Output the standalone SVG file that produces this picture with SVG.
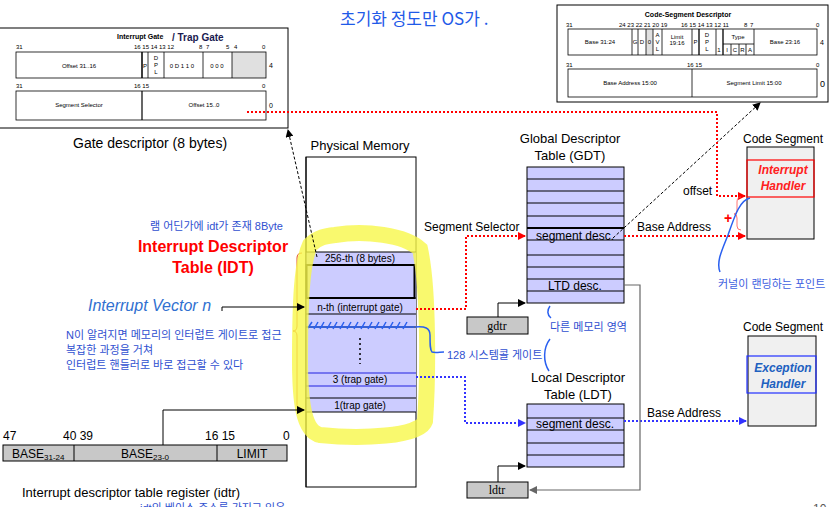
<svg xmlns="http://www.w3.org/2000/svg" width="830" height="507" viewBox="0 0 830 507">
<style>
text{font-family:"Liberation Sans",Arial,sans-serif;fill:#000}
.t6{font-size:6px}
.t7{font-size:7px}
.lbl{font-size:13px}
.mem{font-size:10px}
.ko{font-family:"Liberation Sans","Noto Sans CJK KR",sans-serif;fill:#3050d0;font-size:11px}
.thin{fill:none;stroke:#000;stroke-width:0.8}
.box{fill:#fff;stroke:#000;stroke-width:1}
.lav{fill:#ccccff;stroke:#000;stroke-width:1}
.reg{fill:#c8c8c8;stroke:#000;stroke-width:1}
.rdot{fill:none;stroke:#ff0000;stroke-width:2;stroke-dasharray:2 2}
.bdot{fill:none;stroke:#3333ff;stroke-width:2;stroke-dasharray:2 2}
.blk{fill:none;stroke:#000;stroke-width:1}
.dash{fill:none;stroke:#000;stroke-width:1;stroke-dasharray:3 2}
.pen{fill:none;stroke:#2a60f0;stroke-width:1.5}
</style>
<defs>
<marker id="ab" markerWidth="8" markerHeight="8" refX="7" refY="4" orient="auto" markerUnits="userSpaceOnUse"><path d="M0,0 L8,4 L0,8 Z" fill="#000"/></marker>
<marker id="ar" markerWidth="8" markerHeight="8" refX="7" refY="4" orient="auto" markerUnits="userSpaceOnUse"><path d="M0,0 L8,4 L0,8 Z" fill="#ff0000"/></marker>
<marker id="abl" markerWidth="8" markerHeight="8" refX="7" refY="4" orient="auto" markerUnits="userSpaceOnUse"><path d="M0,0 L8,4 L0,8 Z" fill="#3333ff"/></marker>
<marker id="ag" markerWidth="8" markerHeight="8" refX="7" refY="4" orient="auto" markerUnits="userSpaceOnUse"><path d="M0,0 L8,4 L0,8 Z" fill="#666"/></marker>
</defs>
<rect width="830" height="507" fill="#fff"/>

<!-- handwritten note -->
<text x="340" y="25" style="font-family:'Noto Sans CJK KR',sans-serif;font-size:17px;fill:#1f5ae8">초기화 정도만 OS가 .</text>

<!-- Gate descriptor -->
<g id="gate-descriptor">
<rect x="-1" y="28" width="289" height="100" class="box"/>
<text x="117" y="39" style="font-size:7px;font-weight:bold">Interrupt Gate</text>
<text x="172" y="41" style="font-size:10px;font-weight:bold;fill:#1a1a50">/ Trap Gate</text>
<g class="t6">
<text x="16" y="49">31</text><text x="134" y="49">16 15 14 13 12</text><text x="199" y="49">8</text><text x="206" y="49">7</text><text x="226" y="49">5</text><text x="234" y="49">4</text><text x="262" y="49">0</text>
<text x="16" y="88">31</text><text x="134" y="88">16 15</text><text x="262" y="88">0</text>
</g>
<rect x="232" y="52" width="34" height="26" fill="#e0e0e0"/>
<rect x="16" y="52" width="250" height="26" class="thin"/>
<path d="M142 52V78M148 52V78M164 52V78M203 52V78M232 52V78" class="thin"/>
<path d="M142 52V78" stroke="#000" stroke-width="1.2"/>
<g class="t6" text-anchor="middle">
<text x="79" y="68">Offset 31..16</text>
<text x="145" y="68">P</text>
<text x="156" y="60">D</text><text x="156" y="67">P</text><text x="156" y="74">L</text>
<text x="182" y="68">0 D 1 1 0</text>
<text x="217" y="68">0 0 0</text>
<text x="79" y="107">Segment Selector</text>
<text x="204" y="107">Offset 15..0</text>
</g>
<text x="269" y="68" class="t7">4</text>
<rect x="16" y="91" width="250" height="29" class="thin"/>
<path d="M142 91V120" stroke="#000" stroke-width="1.2"/>
<text x="269" y="108" class="t7">0</text>
</g>
<text x="73" y="148" style="font-size:14px">Gate descriptor (8 bytes)</text>

<!-- Code-Segment Descriptor -->
<g id="code-segment-descriptor">
<rect x="557" y="5" width="271" height="97" class="box"/>
<text x="688" y="17" text-anchor="middle" style="font-size:7px;font-weight:bold">Code-Segment Descriptor</text>
<g class="t6">
<text x="566" y="27">31</text><text x="619" y="27">24 23 22 21 20 19</text><text x="681" y="27">16 15 14 13 12 11</text><text x="744" y="27">8</text><text x="750" y="27">7</text><text x="816" y="27">0</text>
<text x="566" y="67">31</text><text x="687" y="67">16 15</text><text x="816" y="67">0</text>
</g>
<rect x="646" y="29" width="7" height="26" fill="#e0e0e0"/>
<rect x="568" y="29" width="249" height="26" class="thin"/>
<path d="M632 29V55M638 29V55M646 29V55M653 29V55M662 29V55M692 29V55M716 29V55M754 29V55M723 44H754M731 44V55M739 44V55M746 44V55" class="thin"/>
<path d="M699 29V55M723 29V55" stroke="#000" stroke-width="1.3"/>
<g class="t6" text-anchor="middle">
<text x="600" y="44">Base 31:24</text>
<text x="635" y="44">G</text><text x="642" y="44">D</text><text x="649.5" y="44">0</text>
<text x="657.5" y="37">A</text><text x="657.5" y="44">V</text><text x="657.5" y="51">L</text>
<text x="677" y="39">Limit</text><text x="677" y="45">19:16</text>
<text x="695.5" y="44">P</text>
<text x="707" y="37">D</text><text x="707" y="44">P</text><text x="707" y="51">L</text>
<text x="719" y="52">1</text>
<text x="738" y="39">Type</text>
<text x="727" y="52">I</text><text x="735" y="52">C</text><text x="742.5" y="52">R</text><text x="750" y="52">A</text>
<text x="785" y="44">Base 23:16</text>
<text x="630" y="85">Base Address 15:00</text>
<text x="754" y="85">Segment Limit 15:00</text>
</g>
<text x="820" y="45" class="t7">4</text>
<rect x="568" y="69" width="249" height="28" class="thin"/>
<path d="M692 69V97" class="thin"/>
<text x="820" y="87" style="font-size:9px">0</text>
</g>

<!-- IDT labels -->
<text x="150" y="230" class="ko">램 어딘가에 idt가 존재 8Byte</text>
<text x="213" y="252" text-anchor="middle" style="font-size:16px;font-weight:bold;fill:#ff0000">Interrupt Descriptor</text>
<text x="213" y="273" text-anchor="middle" style="font-size:16px;font-weight:bold;fill:#ff0000">Table (IDT)</text>
<text x="88" y="311" style="font-size:16px;font-style:italic;fill:#3070d0">Interrupt Vector n</text>
<text x="66" y="339" class="ko">N이 알려지면 메모리의 인터럽트 게이트로 접근</text>
<text x="66" y="354" class="ko">복잡한 과정을 거쳐</text>
<text x="66" y="369" class="ko">인터럽트 핸들러로 바로 접근할 수 있다</text>

<!-- Physical Memory -->
<g id="physical-memory">
<text x="360" y="150" text-anchor="middle" class="lbl">Physical Memory</text>
<rect x="306" y="157" width="110" height="330" class="box"/>
<rect x="306" y="252" width="110" height="160" fill="#ccccff"/>
<path d="M306 252H416M306 298H416M306 314H416M306 398H416M306 412H416" class="blk"/>
<rect x="306.5" y="265" width="108" height="33" fill="none" stroke="#000" stroke-width="2"/>
<path d="M306 373H416M306 386H416" stroke="#2020e0" stroke-width="1"/>
<path d="M306 327H416" class="blk"/>
<path d="M306 157V487" class="blk"/>
<g class="mem" text-anchor="middle">
<text x="360" y="262">256-th (8 bytes)</text>
<text x="360" y="311">n-th (interrupt gate)</text>
<text x="360" y="383">3 (trap gate)</text>
<text x="360" y="409">1(trap gate)</text>
</g>
<path d="M360 338V364" stroke="#000" stroke-width="1.5" stroke-dasharray="2 3"/>
<!-- hatch -->
<path d="M308 328L312 322M314 329L318 322M320 329L324 322M327 329L331 322M333 329L337 322M340 329L344 322M347 329L351 322M354 329L358 322M361 329L365 322M368 329L372 322M375 329L379 322M382 329L386 322M389 329L393 322M396 329L400 322M403 329L407 322M310 327H414" class="pen"/>
<!-- brace -->
<path d="M302 253Q297 253 297 258V326Q297 331 293 331Q297 331 297 336V405Q297 410 302 410" fill="none" stroke="#e05020" stroke-width="1"/>
</g>
<!-- yellow highlight -->
<path d="M335 235C365 230 405 235 420 249C429 290 428 380 425 421C420 437 360 439 320 435C303 431 300 400 300 360C300 300 302 262 310 245C318 237 326 236 335 235Z" fill="none" stroke="#f7f74a" stroke-width="16" stroke-opacity="0.8"/>

<!-- idtr -->
<g id="idtr">
<g style="font-size:12px">
<text x="3" y="440">47</text><text x="63" y="440">40 39</text><text x="205" y="440">16 15</text><text x="283" y="440">0</text>
</g>
<rect x="3" y="445" width="284" height="16" class="reg"/>
<path d="M74 445V461M217 445V461" class="blk"/>
<text x="12" y="458" style="font-size:12px">BASE<tspan style="font-size:8px" dy="2">31-24</tspan></text>
<text x="121" y="458" style="font-size:12px">BASE<tspan style="font-size:8px" dy="2">23-0</tspan></text>
<text x="252" y="458" text-anchor="middle" style="font-size:12px">LIMIT</text>
</g>
<text x="22" y="497" style="font-size:13px">Interrupt  descriptor table register (idtr)</text>
<text x="140" y="512" class="ko">idt의 베이스 주소를 가지고 있음</text>

<!-- GDT -->
<g id="gdt">
<text x="570" y="143" text-anchor="middle" class="lbl">Global Descriptor</text>
<text x="570" y="160" text-anchor="middle" class="lbl">Table (GDT)</text>
<rect x="527" y="167" width="97" height="136" class="lav"/>
<path d="M527 179H624M527 191H624M527 203H624M527 216H624M527 240H624M527 255H624M527 267H624M527 279H624M527 291H624" class="blk"/>
<path d="M527 228H624" stroke="#000" stroke-width="2"/>
<text x="575" y="240" text-anchor="middle" style="font-size:12px">segment desc.</text>
<text x="575" y="290" text-anchor="middle" style="font-size:12px">LTD desc.</text>
</g>
<g id="gdtr">
<rect x="467" y="317" width="61" height="17" class="reg"/>
<text x="497" y="330" text-anchor="middle" style="font-family:'Liberation Serif',serif;font-size:12px">gdtr</text>
</g>

<!-- LDT -->
<g id="ldt">
<text x="578" y="382" text-anchor="middle" class="lbl">Local Descriptor</text>
<text x="578" y="399" text-anchor="middle" class="lbl">Table (LDT)</text>
<rect x="527" y="404" width="97" height="63" class="lav"/>
<path d="M527 418H624M527 430H624M527 443H624M527 455H624" class="blk"/>
<text x="575" y="428" text-anchor="middle" style="font-size:12px">segment desc.</text>
</g>
<g id="ldtr">
<rect x="467" y="482" width="61" height="16" class="reg"/>
<text x="497" y="494" text-anchor="middle" style="font-family:'Liberation Serif',serif;font-size:12px">ldtr</text>
</g>

<!-- Code Segment 1 -->
<g id="code-segment-1">
<text x="783" y="143" text-anchor="middle" style="font-size:12px">Code Segment</text>
<rect x="747" y="147" width="67" height="92" fill="#f0f0f0" stroke="#000"/>
<rect x="747" y="160" width="67" height="37" fill="none" stroke="#ff0000" stroke-width="1.2"/>
<text x="783" y="174" text-anchor="middle" style="font-size:12px;font-weight:bold;font-style:italic;fill:#ff2020">Interrupt</text>
<text x="783" y="190" text-anchor="middle" style="font-size:12px;font-weight:bold;font-style:italic;fill:#ff2020">Handler</text>
</g>
<!-- Code Segment 2 -->
<g id="code-segment-2">
<text x="783" y="331" text-anchor="middle" style="font-size:12px">Code Segment</text>
<rect x="748" y="336" width="68" height="90" fill="#f0f0f0" stroke="#000"/>
<rect x="747" y="356" width="69" height="37" fill="none" stroke="#2030ff" stroke-width="1.2"/>
<text x="783" y="372" text-anchor="middle" style="font-size:12px;font-weight:bold;font-style:italic;fill:#2060c0">Exception</text>
<text x="783" y="388" text-anchor="middle" style="font-size:12px;font-weight:bold;font-style:italic;fill:#2060c0">Handler</text>
</g>

<!-- connectors -->
<g id="connectors">
<path d="M222 311V307H304" class="blk" marker-end="url(#ab)"/>
<path d="M163 445V410H304" class="blk" marker-end="url(#ab)"/>
<path d="M317 257L288 130" class="dash" marker-end="url(#ab)"/>
<path d="M613 238L760 103" class="dash" marker-end="url(#ab)"/>
<path d="M247 112H717V196H745" class="rdot" marker-end="url(#ar)"/>
<path d="M416 309H466V236H525" class="rdot" marker-end="url(#ar)"/>
<path d="M624 236H745" class="rdot" marker-end="url(#ar)"/>
<path d="M416 377H465V423H525" class="bdot" marker-end="url(#abl)"/>
<path d="M624 421H746" class="bdot" marker-end="url(#abl)"/>
<path d="M498 317V303H525" class="blk" marker-end="url(#ab)"/>
<path d="M498 482V466H525" class="blk" marker-end="url(#ab)"/>
<path d="M624 285H640V490H530" fill="none" stroke="#666" stroke-width="1.2" marker-end="url(#ag)"/>
</g>
<text x="424" y="231" style="font-size:12px">Segment Selector</text>
<text x="637" y="231" style="font-size:12px">Base Address</text>
<text x="683" y="195" style="font-size:12px">offset</text>
<text x="647" y="417" style="font-size:12px">Base Address</text>

<!-- annotations -->
<text x="724" y="223" style="font-size:14px;font-weight:bold;fill:#ff0000">+</text>
<path d="M741 197Q737 197 737 202V210Q737 214 734 214Q737 214 737 218V226Q737 230 741 230" fill="none" stroke="#ff5050" stroke-width="0.8"/>
<path d="M750 198C740 200 735 215 728 235C722 250 716 262 720 272" class="pen"/>
<text x="718" y="288" class="ko" style="fill:#4060e0">커널이 랜딩하는 포인트</text>
<path d="M415 327C425 326 430 328 430 335C430 345 430 350 432 352C435 353 440 352 444 352" class="pen"/>
<text x="447" y="359" class="ko">128 시스템콜 게이트</text>
<path d="M550 306C547 310 547 315 551 318" class="pen"/>
<text x="550" y="331" class="ko">다른 메모리 영역</text>
<path d="M550 339C543 348 543 362 549 371" class="pen"/>
<text x="813" y="513" style="font-size:12px;fill:#555">10</text>
</svg>
